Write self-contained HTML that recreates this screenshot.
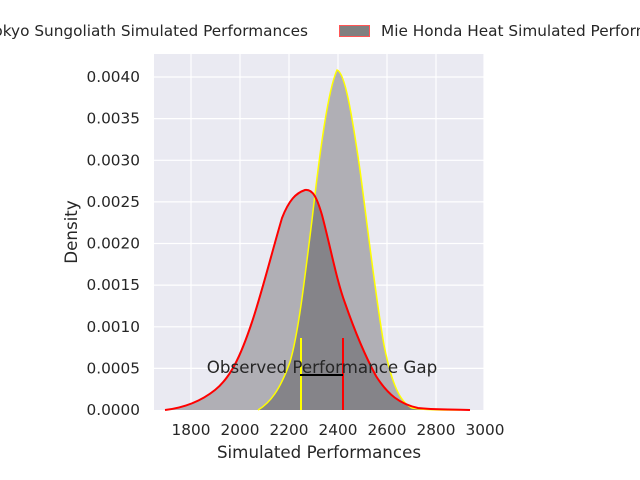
<!DOCTYPE html>
<html><head><meta charset="utf-8"><style>
body{margin:0;background:#fff;}
svg{display:block;font-family:"DejaVu Sans","Liberation Sans",sans-serif;}
</style></head><body>
<svg width="640" height="480" viewBox="0 0 640 480">
<defs>
<clipPath id="rc"><path d="M165,410 C182,408 200,402 215,390 C230,378 240,358 252,322 C262,292 272,252 282,218 C289,200 296,193 305,190 C313,189 317,198 322,215 C330,245 337,282 345,303 C353,326 363,352 376,376 C388,395 400,404 418,408 C435,410 450,409 470,410 Z"/></clipPath>
</defs>
<rect x="154" y="54" width="330" height="356" fill="#eaeaf2"/>
<g stroke="#fff" stroke-width="1.2">
<line x1="191" y1="54" x2="191" y2="410"/><line x1="240" y1="54" x2="240" y2="410"/><line x1="289" y1="54" x2="289" y2="410"/><line x1="338" y1="54" x2="338" y2="410"/><line x1="387" y1="54" x2="387" y2="410"/><line x1="436" y1="54" x2="436" y2="410"/><line x1="484" y1="54" x2="484" y2="410"/>
<line x1="154" y1="368.4" x2="484" y2="368.4"/><line x1="154" y1="326.8" x2="484" y2="326.8"/><line x1="154" y1="285.1" x2="484" y2="285.1"/><line x1="154" y1="243.5" x2="484" y2="243.5"/><line x1="154" y1="201.9" x2="484" y2="201.9"/><line x1="154" y1="160.3" x2="484" y2="160.3"/><line x1="154" y1="118.6" x2="484" y2="118.6"/><line x1="154" y1="77" x2="484" y2="77"/>
</g>
<path d="M165,410 C182,408 200,402 215,390 C230,378 240,358 252,322 C262,292 272,252 282,218 C289,200 296,193 305,190 C313,189 317,198 322,215 C330,245 337,282 345,303 C353,326 363,352 376,376 C388,395 400,404 418,408 C435,410 450,409 470,410 Z" fill="#b0afb5"/>
<path d="M258,410 C270,403 280,390 290,362 C298,335 304,285 312,220 C320,150 328,90 337,70 C345,72 352,115 360,170 C368,230 376,300 384,345 C392,385 400,402 412,408 C425,410 440,410 460,410 Z" fill="#b0afb5"/>
<path d="M258,410 C270,403 280,390 290,362 C298,335 304,285 312,220 C320,150 328,90 337,70 C345,72 352,115 360,170 C368,230 376,300 384,345 C392,385 400,402 412,408 C425,410 440,410 460,410 Z" fill="#858489" clip-path="url(#rc)"/>
<path d="M258,410 C270,403 280,390 290,362 C298,335 304,285 312,220 C320,150 328,90 337,70 C345,72 352,115 360,170 C368,230 376,300 384,345 C392,385 400,402 412,408 C425,410 440,410 460,410" fill="none" stroke="#ffff00" stroke-width="1.5"/>
<path d="M165,410 C182,408 200,402 215,390 C230,378 240,358 252,322 C262,292 272,252 282,218 C289,200 296,193 305,190 C313,189 317,198 322,215 C330,245 337,282 345,303 C353,326 363,352 376,376 C388,395 400,404 418,408 C435,410 450,409 470,410" fill="none" stroke="#ff0000" stroke-width="2"/>
<line x1="301" y1="338" x2="301" y2="410" stroke="#ffff00" stroke-width="2"/>
<line x1="343" y1="338" x2="343" y2="410" stroke="#ff0000" stroke-width="2"/>
<line x1="300" y1="375" x2="343" y2="375" stroke="#000" stroke-width="2"/>
<text x="322" y="373" font-size="16.7" fill="#262626" text-anchor="middle">Observed Performance Gap</text>
<g font-size="15.3" fill="#262626" text-anchor="middle">
<text x="191" y="435">1800</text><text x="240" y="435">2000</text><text x="289" y="435">2200</text><text x="338" y="435">2400</text><text x="387" y="435">2600</text><text x="436" y="435">2800</text><text x="485" y="435">3000</text>
</g>
<g font-size="15.3" fill="#262626" text-anchor="end">
<text x="140" y="415">0.0000</text><text x="140" y="373.4">0.0005</text><text x="140" y="331.8">0.0010</text><text x="140" y="290.1">0.0015</text><text x="140" y="248.5">0.0020</text><text x="140" y="206.9">0.0025</text><text x="140" y="165.3">0.0030</text><text x="140" y="123.6">0.0035</text><text x="140" y="82">0.0040</text>
</g>
<text x="319" y="458" font-size="16.7" fill="#262626" text-anchor="middle">Simulated Performances</text>
<text transform="translate(77,232) rotate(-90)" font-size="16.7" fill="#262626" text-anchor="middle">Density</text>
<text x="308" y="36" font-size="15.3" fill="#262626" text-anchor="end">Tokyo Sungoliath Simulated Performances</text>
<rect x="339.5" y="25.5" width="30" height="11" fill="#808080" stroke="#ff5555" stroke-width="1"/>
<text x="381" y="36" font-size="15.3" fill="#262626">Mie Honda Heat Simulated Performances</text>
</svg>
</body></html>
